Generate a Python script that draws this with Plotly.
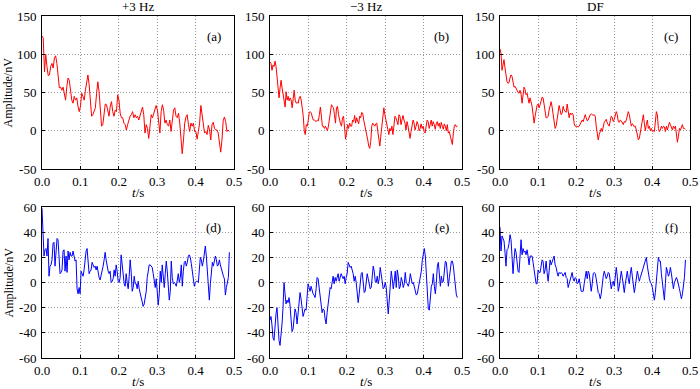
import plotly.graph_objects as go

# ---- data (amplitude in nV) ----
amp_p3_top = [124, 121, 77, 100, 84, 72, 73, 84, 88, 82, 95, 98, 88, 71, 56, 57, 53, 57, 49, 40, 58, 69, 66, 51, 40, 36, 45, 40, 43, 32, 25, 32, 49, 45, 40, 53, 66, 73, 60, 36, 19, 21, 25, 30, 49, 64, 51, 27, 6, 8, 25, 35, 34, 27, 19, 32, 38, 25, 19, 27, 25, 47, 40, 23, 17, 17, 10, 8, 1, 8, 14, 19, 21, 25, 17, 21, 17, 19, 14, 19, 25, 31, 21, -3, 8, 3, -10, 3, 21, 17, 23, 27, 33, 27, 10, -3, 25, 34, 27, 10, 14, 8, 6, 14, -1, 10, 27, 30, 19, 17, 23, 10, -7, -30, -12, 10, 18, 21, 8, -1, 10, 6, 10, -1, -1, -11, -1, 10, 33, 19, 6, -3, -1, -5, 7, 1, -12, 8, 11, 3, 1, 1, -3, -16, -28, -12, 13, 18, 12, -1, 1, -1]
amp_m3_top = [90, 88, 79, 86, 84, 91, 84, 67, 53, 43, 56, 66, 56, 45, 38, 31, 51, 40, 45, 39, 43, 40, 30, 45, 53, 40, 36, 37, 36, 43, 45, 40, 30, 19, 0, -5, 8, 6, 14, 24, 25, 23, 18, 14, 14, 13, 12, 14, 13, 21, 31, 19, 6, 6, 3, 6, 3, 0, 6, 17, 25, 34, 32, 30, 21, 10, 30, 32, 21, 12, 9, 6, 17, 19, 6, -11, -3, 8, 3, 10, 6, 6, 14, 12, 20, 10, 17, 12, 9, 19, 17, 24, 23, 14, 8, 3, -3, -12, -20, -23, -14, 6, 10, 8, 6, 9, 10, -1, -12, -20, -7, 8, 21, 30, 21, 14, 10, 1, -5, 3, 0, 6, -5, 6, 19, 17, 10, 8, 21, 19, 8, 14, 20, 14, 10, 1, 12, 6, -3, -10, -1, 10, 14, 10, 1, 6, 12, 8, 0, 3, 9, 3, 6, -1, -3, 6, 14, 12, 3, 8, 14, 6, 12, 8, 2, 9, 12, 6, 10, 3, 11, 6, 2, 9, 6, 0, 8, -3, -1, -7, -12, -18, -3, 6, 8, 5, 6]
amp_df_top = [107, 101, 79, 90, 93, 82, 73, 64, 62, 63, 69, 73, 71, 64, 57, 58, 56, 53, 50, 49, 53, 48, 36, 51, 57, 54, 47, 49, 40, 36, 43, 38, 32, 21, 10, 19, 27, 33, 35, 30, 34, 40, 44, 43, 33, 23, 17, 17, 19, 27, 34, 38, 31, 21, 13, 3, 6, 17, 27, 33, 27, 21, 23, 32, 27, 25, 24, 35, 25, 17, 23, 21, 23, 21, 9, 6, 6, 5, 5, 6, 9, 12, 14, 12, 17, 21, 17, 13, 14, 18, 21, 22, 21, 20, 21, 19, 6, -3, -12, -5, -1, 3, -1, 6, 11, 13, 15, 10, 8, 6, 13, 19, 17, 12, 15, 19, 25, 21, 12, 11, 14, 13, 9, 8, 12, 11, 14, 21, 25, 21, 11, 6, 9, 8, 5, 6, 1, -7, -12, -10, -1, 6, 12, 21, 10, 0, 8, 14, 3, 6, 0, 3, -1, 0, -1, 14, 25, 21, 3, -1, 1, 6, 3, 6, 5, -1, 6, 1, 9, 11, 8, 3, 1, 6, 3, 6, -3, -15, -7, 3, 1, 5, 8, 3, 3, 2]
amp_p3_bot = [59, 38, 21, 26, 27, 21, 35, 5, 13, 14, 18, 31, 32, 13, 29, 35, 34, 22, 7, 8, 10, 25, 26, 9, 21, 8, 25, 18, 24, 21, 21, 25, 21, 17, 18, -5, -9, -4, -9, 9, 7, 5, 10, 18, 25, 27, 17, 7, 9, 10, 16, 14, 12, 13, 10, 13, 7, 4, 2, 5, 8, 13, 18, 24, 18, 13, 9, 7, 9, 0, 1, 3, 10, 5, 14, 9, 1, 0, 4, 22, 12, 3, -1, -3, 7, 0, -5, 5, 18, 8, -7, -4, 5, -1, -1, -5, 1, -5, -9, -13, -16, -19, -17, -13, -7, 4, 12, 14, 14, 13, 12, 7, 0, -4, 3, -8, -18, -9, 9, 0, 14, 5, -4, 7, 17, 9, -1, -14, -7, 17, 4, -1, 0, -1, -3, 1, 7, 0, 4, 14, -3, 9, 16, 17, 13, 16, 21, 22, 20, 15, 9, 3, -3, 0, 1, 1, 0, 10, 20, 18, 13, 17, 24, 29, 21, 7, -5, -14, -1, 12, 16, 13, 16, 21, 18, 13, 14, 18, 14, 10, 7, 5, 3, -10, -4, 1, 4, 24]
amp_m3_bot = [-30, -27, -34, -44, -46, -34, -25, -20, -34, -46, -50, -43, -33, -20, 0, -9, -17, -14, -16, -12, -18, -29, -39, -37, -27, -21, -24, -33, -25, -16, -8, -13, -20, -27, -24, -21, -22, -8, -1, -4, -7, -3, -7, -9, -10, -12, -5, 4, 3, -3, -9, -16, -24, -21, -22, -29, -33, -24, -17, -9, -4, -5, -1, 5, -1, 4, 1, 5, 7, 1, 5, 7, 5, 3, 5, -1, 4, 7, 16, 14, 12, 13, 10, 7, 1, 5, 0, -8, -16, -9, 1, 7, 8, 0, -8, -7, -1, 7, 3, -3, -5, -4, 4, 13, 9, 1, 0, 5, -1, 3, 12, 7, -1, -5, -4, 0, -4, -16, -25, -14, 0, 9, 3, -5, 1, 9, -4, 10, 5, -5, -3, 4, 1, -4, -1, 8, 0, -1, -3, 0, 7, 3, -1, 0, -4, -8, -10, -9, -4, -1, 4, 9, 18, 22, 27, 21, 9, -9, -21, -22, -9, -3, -1, 7, -3, -9, 0, 13, 16, 7, -3, 5, 0, 1, 13, 17, 16, 7, -3, 4, 13, 17, 17, 13, 5, -4, -10, -12]
amp_df_bot = [44, 25, 37, 35, 33, 24, 13, 26, 27, 31, 38, 34, 21, 7, 18, 27, 24, 17, 9, 8, 21, 34, 22, 27, 24, 25, 22, 26, 21, 14, 21, 21, 21, 16, 10, 4, -1, -1, 10, 8, 8, 13, 18, 17, 7, 10, 17, 8, 1, 9, 18, 14, 17, 20, 21, 14, 12, 8, 5, 8, 7, 8, 7, 5, 7, 8, 4, 3, -4, -1, 0, 4, 8, 3, 1, 4, 3, -1, 0, 3, -3, -7, -7, -7, -1, 7, 9, 3, 9, 7, -1, -7, -1, 7, 8, 7, 3, -3, -8, -9, -13, -9, -1, 5, 9, 5, 3, 5, 8, 7, 0, -5, -1, 1, -3, 4, 12, 5, -7, -3, 4, 9, 4, -4, -8, -1, 7, 9, 3, -1, 7, 12, 5, -3, -8, -3, 3, 9, 5, 1, 4, 7, 10, 13, 14, 17, 20, 13, 7, 3, 0, -1, -4, -9, -14, -8, 1, 13, 20, 17, 17, 7, -1, -9, -14, -1, 12, 9, 5, 7, 12, 7, -1, -5, 0, 3, 4, 2, -3, -5, -9, -13, -9, -1, 4, 18]

T_END = 0.488  # last sample time (s)

column_titles = ["+3 Hz", "\u22123 Hz", "DF"]
panel_labels = ["(a)", "(b)", "(c)", "(d)", "(e)", "(f)"]
x_ticks = [0.0, 0.1, 0.2, 0.3, 0.4, 0.5]
x_tick_text = ["0.0", "0.1", "0.2", "0.3", "0.4", "0.5"]
y_ticks_top = [-50, 0, 50, 100, 150]
y_ticks_top_text = ["-50", "0", "50", "100", "150"]
y_ticks_bot = [-60, -40, -20, 0, 20, 40, 60]
y_ticks_bot_text = ["-60", "-40", "-20", "0", "20", "40", "60"]

series = [amp_p3_top, amp_m3_top, amp_df_top, amp_p3_bot, amp_m3_bot, amp_df_bot]
colors = ["#ff0000"] * 3 + ["#0000ff"] * 3

FONT = "Liberation Serif"
FS = 13
W, H = 700, 389
x_dom_px = [(42, 234), (270, 462), (500, 690)]
y_dom_px = [(16, 169), (207, 358)]

fig = go.Figure()
annotations = []
for i, ys in enumerate(series):
    r, c = divmod(i, 3)
    n = len(ys)
    t = [T_END * k / (n - 1) for k in range(n)]
    idx = "" if i == 0 else str(i + 1)
    fig.add_trace(go.Scatter(x=t, y=ys, mode="lines",
                             line=dict(color=colors[i], width=1),
                             xaxis="x" + idx, yaxis="y" + idx, showlegend=False,
                             hoverinfo="skip"))
    x0, x1 = x_dom_px[c]
    y0, y1 = y_dom_px[r]
    common = dict(showline=True, mirror=True, linecolor="black", linewidth=1,
                  ticks="inside", ticklen=3, tickcolor="black", automargin=False,
                  showgrid=True, gridcolor="#9a9a9a", griddash="1px,2px", gridwidth=1,
                  zeroline=False, tickfont=dict(family=FONT, size=FS, color="black"))
    fig.layout["xaxis" + idx] = dict(
        domain=[x0 / W, x1 / W], range=[0, 0.5], anchor="y" + idx,
        tickvals=x_ticks, ticktext=x_tick_text, **common)
    if r == 0:
        yt, ytt, yr = y_ticks_top, y_ticks_top_text, [-50, 150]
    else:
        yt, ytt, yr = y_ticks_bot, y_ticks_bot_text, [-60, 60]
    fig.layout["yaxis" + idx] = dict(
        domain=[1 - y1 / H, 1 - y0 / H], range=yr, anchor="x" + idx,
        tickvals=yt, ticktext=ytt, ticklabelstandoff=2, **common)
    # panel label
    annotations.append(dict(text=panel_labels[i], xref="x" + idx + " domain",
                            yref="y" + idx + " domain", x=0.945, y=0.93,
                            xanchor="right", yanchor="top", showarrow=False,
                            font=dict(family=FONT, size=FS, color="black")))
    # x axis title
    annotations.append(dict(text="<i>t</i>/s", xref="paper", yref="paper",
                            x=(x0 + x1) / 2 / W, y=1 - (y1 + 23) / H,
                            xanchor="center", yanchor="middle", showarrow=False,
                            font=dict(family=FONT, size=FS, color="black")))
    if r == 0:
        annotations.append(dict(text=column_titles[c], xref="paper", yref="paper",
                                x=(x0 + x1) / 2 / W, y=1 - 7 / H,
                                xanchor="center", yanchor="middle", showarrow=False,
                                font=dict(family=FONT, size=FS, color="black")))
    if c == 0:
        annotations.append(dict(text="Amplitude/nV", xref="paper", yref="paper",
                                x=8 / W, y=1 - (y0 + y1) / 2 / H, textangle=-90,
                                xanchor="center", yanchor="middle", showarrow=False,
                                font=dict(family=FONT, size=12, color="black")))

fig.update_layout(template="none", width=W, height=H,
                  margin=dict(l=0, r=0, t=0, b=0, autoexpand=False),
                  paper_bgcolor="white", plot_bgcolor="white",
                  annotations=annotations, showlegend=False)
fig.write_html("out.html", config={"displayModeBar": False},
               post_script="document.body.style.margin='0';document.body.style.padding='0';")
